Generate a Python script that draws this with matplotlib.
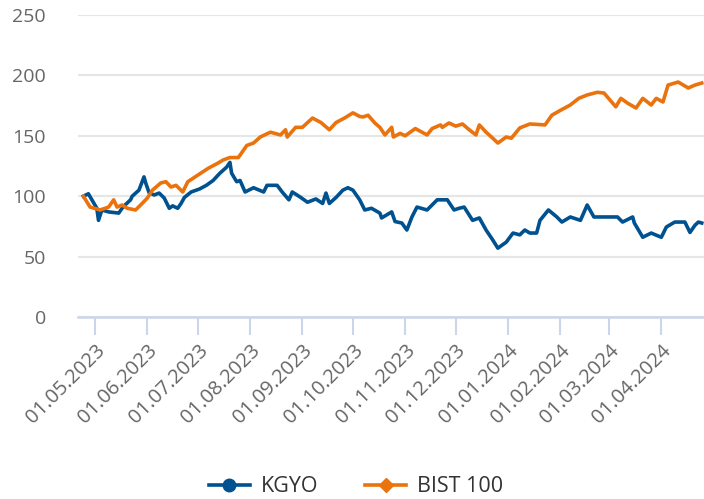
import matplotlib
matplotlib.use("Agg")
import matplotlib.pyplot as plt
import matplotlib.dates as mdates
from matplotlib.lines import Line2D
import pandas as pd

plt.rcParams['font.family'] = ['Open Sans', 'DejaVu Sans']

kgyo_dates = ["2023-04-24","2023-04-27","2023-05-02","2023-05-03","2023-05-05","2023-05-09","2023-05-15",
"2023-05-17","2023-05-19","2023-05-22","2023-05-23","2023-05-27","2023-05-30","2023-05-31","2023-06-02",
"2023-06-05","2023-06-08","2023-06-11","2023-06-14","2023-06-16","2023-06-19","2023-06-21","2023-06-23",
"2023-06-27","2023-07-02","2023-07-06","2023-07-10","2023-07-14","2023-07-18","2023-07-20","2023-07-21",
"2023-07-24","2023-07-26","2023-07-29","2023-08-03","2023-08-09","2023-08-11","2023-08-17","2023-08-20",
"2023-08-24","2023-08-26","2023-08-31","2023-09-04","2023-09-09","2023-09-13","2023-09-15","2023-09-17",
"2023-09-21","2023-09-25","2023-09-28","2023-10-01","2023-10-05","2023-10-08","2023-10-12","2023-10-17",
"2023-10-18","2023-10-24","2023-10-26","2023-10-30","2023-11-02","2023-11-05","2023-11-08","2023-11-14",
"2023-11-20","2023-11-26","2023-11-30","2023-12-03","2023-12-06","2023-12-11","2023-12-15","2023-12-19",
"2023-12-23","2023-12-26","2023-12-31","2024-01-04","2024-01-08","2024-01-11","2024-01-14","2024-01-18",
"2024-01-20","2024-01-25","2024-01-30","2024-02-02","2024-02-07","2024-02-13","2024-02-17","2024-02-21",
"2024-02-27","2024-03-06","2024-03-09","2024-03-15","2024-03-16","2024-03-21","2024-03-26","2024-04-01",
"2024-04-04","2024-04-09","2024-04-15","2024-04-18","2024-04-21","2024-04-23","2024-04-25"]
kgyo_values = [100,102,90,80,88.6,87,86,
90,93,97,100,105,116,111,103,
101,102.6,98.5,90,92,90,94,99,
103.5,106,109,113,119,124,128,119,
112,113,103.5,107,103.5,109,109,103.5,
97,103.5,99,95,97.7,94,102.6,94,
99,105,107,105,97,88.6,90,86,
82,87,79,77.8,72,82.8,91,88.6,
97,97,88.6,90,91,80,82,72,
63.7,57,62,69.5,68,72,69.5,69.5,
80,88.6,82.8,78.6,82.8,80,92.7,82.8,
82.8,82.8,78.6,82.8,77.8,66,69.5,66,
74.5,78.6,78.6,70,76,78.6,77.8]

bist_dates = ["2023-04-24","2023-04-28","2023-05-04","2023-05-09","2023-05-12","2023-05-14","2023-05-17",
"2023-05-20","2023-05-25","2023-05-28","2023-06-01","2023-06-04","2023-06-09","2023-06-12","2023-06-15",
"2023-06-18","2023-06-22","2023-06-25","2023-07-01","2023-07-07","2023-07-13","2023-07-16","2023-07-20",
"2023-07-25","2023-07-30","2023-08-03","2023-08-07","2023-08-13","2023-08-19","2023-08-22","2023-08-23",
"2023-08-28","2023-09-01","2023-09-07","2023-09-12","2023-09-17","2023-09-21","2023-09-26","2023-10-01",
"2023-10-05","2023-10-07","2023-10-10","2023-10-14","2023-10-17","2023-10-20","2023-10-24","2023-10-25",
"2023-10-29","2023-11-01","2023-11-07","2023-11-14","2023-11-17","2023-11-22","2023-11-23","2023-11-27",
"2023-12-01","2023-12-05","2023-12-09","2023-12-13","2023-12-15","2023-12-19","2023-12-23","2023-12-26",
"2023-12-31","2024-01-03","2024-01-08","2024-01-14","2024-01-23","2024-01-27","2024-02-01","2024-02-07",
"2024-02-12","2024-02-17","2024-02-23","2024-02-27","2024-03-01","2024-03-05","2024-03-08","2024-03-12",
"2024-03-17","2024-03-21","2024-03-26","2024-03-29","2024-04-02","2024-04-05","2024-04-11","2024-04-17",
"2024-04-21","2024-04-25"]
bist_values = [100,91,88.6,91,97,91,92.7,
90,88.6,92.7,98.5,105,111,112,107.6,
109,103.5,112,117.5,123,127.5,130,132,
132,142,144,149,153,150.7,155,149,
157,157,164.7,161,155,161,164.7,169,
166,165.6,167,160.6,157,150.7,157,149,
152,150,156,150.7,156,159,157,160.6,
158,159.8,155,150.7,159,153,148,144,
149,148,156.5,159.8,159,167,171,175.5,
181,183.8,186,185.4,180.5,174,181,177,
173,181,175.5,181,178,192,194.5,189.6,
192,193.7]

tick_dates = ["2023-05-01","2023-06-01","2023-07-01","2023-08-01","2023-09-01","2023-10-01",
              "2023-11-01","2023-12-01","2024-01-01","2024-02-01","2024-03-01","2024-04-01"]
tick_labels = ["01.05.2023","01.06.2023","01.07.2023","01.08.2023","01.09.2023","01.10.2023",
               "01.11.2023","01.12.2023","01.01.2024","01.02.2024","01.03.2024","01.04.2024"]
y_ticks = [0, 50, 100, 150, 200, 250]
series_names = ["KGYO", "BIST 100"]

blue = "#00518f"
orange = "#ea730e"
grid_c = "#e6e6e6"
axis_c = "#ccd6eb"

fig = plt.figure(figsize=(7.04, 4.99), dpi=100)
ax = fig.add_axes([78/704, 1-317/499, 1-78/704, (317-15)/499])

ax.plot(pd.to_datetime(kgyo_dates), kgyo_values, color=blue, lw=2.6, solid_joinstyle='round', zorder=3)
ax.plot(pd.to_datetime(bist_dates), bist_values, color=orange, lw=2.6, solid_joinstyle='round', zorder=3)

ax.set_ylim(0, 250)
ax.set_yticks(y_ticks)
ax.set_xlim(pd.Timestamp("2023-04-20 20:00"), pd.Timestamp("2024-04-26 08:00"))
ax.set_xticks(pd.to_datetime(tick_dates))
ax.set_xticklabels(tick_labels, rotation=45, ha='right', va='top', rotation_mode='anchor')

for s in ['top', 'right', 'left']:
    ax.spines[s].set_visible(False)
ax.spines['bottom'].set_color(axis_c)
ax.spines['bottom'].set_linewidth(1.8)
ax.yaxis.grid(True, color=grid_c, lw=1.5)
ax.set_axisbelow(True)
ax.tick_params(axis='y', length=0, pad=23, labelsize=14, labelcolor='#666666')
ax.tick_params(axis='x', length=13, width=1.5, color=axis_c, pad=4, labelsize=14.5, labelcolor='#666666')
for lab in ax.get_yticklabels():
    lab.set_horizontalalignment('right')

handles = [Line2D([0], [0], color=blue, lw=2.6, marker='o', markersize=9),
           Line2D([0], [0], color=orange, lw=2.6, marker='D', markersize=7)]
fig.legend(handles, series_names, loc='center', bbox_to_anchor=(356/704, 1-487/499), ncol=2,
           frameon=False, fontsize=15.5, labelcolor='#333333', handlelength=1.9, columnspacing=2.2,
           handletextpad=0.5)

fig.savefig("out.png", dpi=100)
